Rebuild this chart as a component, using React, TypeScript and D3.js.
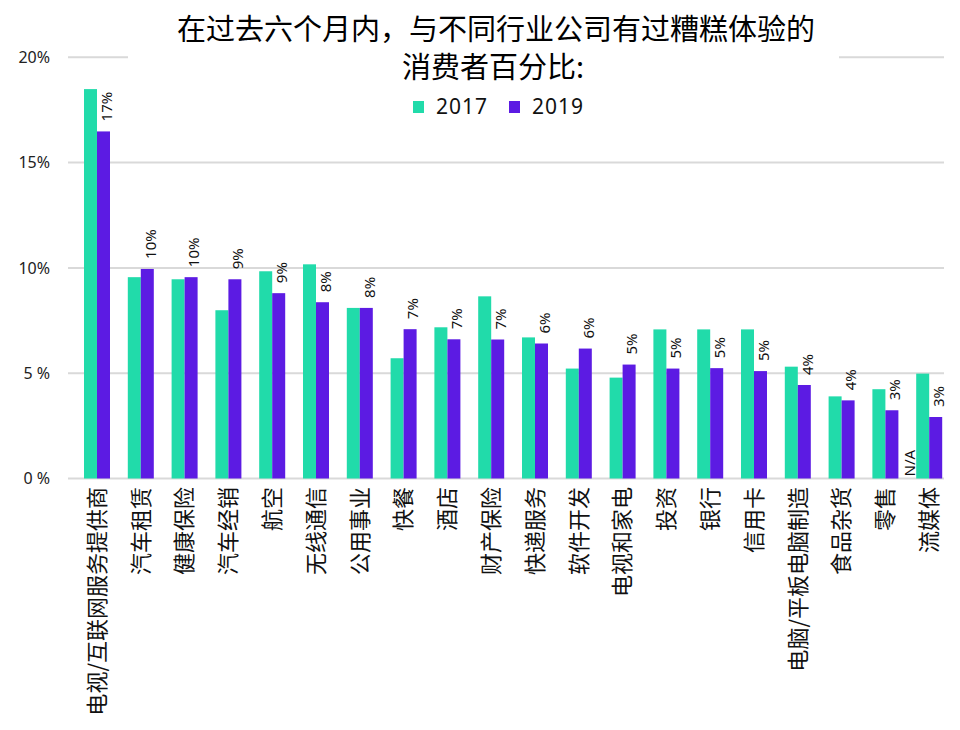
import React, { useEffect, useRef } from "react";
import * as d3 from "d3";

// categories and values
const categories = [
  "电视/互联网服务提供商",
  "汽车租赁",
  "健康保险",
  "汽车经销",
  "航空",
  "无线通信",
  "公用事业",
  "快餐",
  "酒店",
  "财产保险",
  "快递服务",
  "软件开发",
  "电视和家电",
  "投资",
  "银行",
  "信用卡",
  "电脑/平板电脑制造",
  "食品杂货",
  "零售",
  "流媒体",
];

const values2017 = [
  18.49, 9.56, 9.46, 7.99, 9.84, 10.17, 8.1, 5.71, 7.18, 8.65, 6.7, 5.22, 4.79, 7.08, 7.08, 7.08, 5.31, 3.9,
  4.24, 4.98,
];

const values2019 = [
  16.48, 9.95, 9.56, 9.46, 8.8, 8.37, 8.1, 7.09, 6.61, 6.6, 6.41, 6.17, 5.41, 5.22, 5.24, 5.1, 4.44, 3.71,
  3.24, 2.92,
];

const labels2019 = [
  "17%", "10%", "10%", "9%", "9%", "8%", "8%", "7%", "7%", "7%", "6%", "6%", "5%", "5%", "5%", "5%", "4%",
  "4%", "3%", "3%",
];

const seriesNames = ["2017", "2019"];
const yTicks = [0, 5, 10, 15, 20];
const yTickLabels = ["0 %", "5 %", "10%", "15%", "20%"];
const naCategory = "流媒体";

const colors = ["#21dbaa", "#5c1be3"];

const App = () => {
  const ref = useRef<SVGSVGElement>(null);

  useEffect(() => {
    const svg = d3.select(ref.current);
    svg.selectAll("*").remove();

    const width = 960;
    const height = 730;
    const left = 68;
    const right = 944;

    const x = d3.scaleBand().domain(categories).range([left, right]).padding(0);
    const x1 = d3.scaleBand().domain(seriesNames).range([16, 42]).padding(0);
    const y = d3.scaleLinear().domain([0, 20]).range([478.5, 57.3]);

    svg.attr("width", width).attr("height", height);

    // gridlines
    svg
      .append("g")
      .selectAll("line")
      .data(yTicks)
      .enter()
      .append("line")
      .attr("x1", left)
      .attr("x2", right)
      .attr("y1", (d) => y(d))
      .attr("y2", (d) => y(d))
      .attr("stroke", "#d9d9d9")
      .attr("stroke-width", 2);

    svg
      .append("g")
      .selectAll("text")
      .data(yTicks)
      .enter()
      .append("text")
      .attr("x", 50)
      .attr("y", (d) => y(d))
      .attr("dy", "0.35em")
      .attr("text-anchor", "end")
      .attr("font-family", "'Noto Sans', sans-serif")
      .attr("font-size", 16)
      .attr("fill", "#222")
      .text((d, i) => yTickLabels[i]);

    // bars
    const series = [values2017, values2019];
    series.forEach((vals, s) => {
      svg
        .append("g")
        .selectAll("rect")
        .data(vals)
        .enter()
        .append("rect")
        .attr("x", (d, i) => x(categories[i])! + x1(seriesNames[s])!)
        .attr("width", x1.bandwidth())
        .attr("y", (d) => y(d))
        .attr("height", (d) => y(0) - y(d))
        .attr("fill", colors[s]);
    });

    // data labels above 2019 bars
    svg
      .append("g")
      .selectAll("text")
      .data(values2019)
      .enter()
      .append("text")
      .attr("transform", (d, i) => {
        const cx = x(categories[i])! + x1("2019")! + x1.bandwidth() / 2 + 3;
        return `translate(${cx},${y(d) - 10}) rotate(-90)`;
      })
      .attr("dy", "0.35em")
      .attr("text-anchor", "start")
      .attr("font-family", "'Noto Sans', sans-serif")
      .attr("font-size", 15)
      .attr("fill", "#111")
      .text((d, i) => labels2019[i]);

    svg
      .append("text")
      .attr("transform", `translate(${x(naCategory)! + 10},${y(0) - 2}) rotate(-90)`)
      .attr("dy", "0.35em")
      .attr("font-family", "'Noto Sans', sans-serif")
      .attr("font-size", 15)
      .attr("fill", "#111")
      .text("N/A");

    // category labels
    svg
      .append("g")
      .selectAll("text")
      .data(categories)
      .enter()
      .append("text")
      .attr("transform", (d) => `translate(${x(d)! + 29},487) rotate(-90)`)
      .attr("dy", "0.35em")
      .attr("text-anchor", "end")
      .attr("font-family", "'Noto Sans CJK SC', sans-serif")
      .attr("font-size", 22)
      .attr("fill", "#111")
      .text((d) => d);

    // title box covers the top gridline
    svg.append("rect").attr("x", 128).attr("y", 0).attr("width", 711).attr("height", 125).attr("fill", "#fff");

    const title = svg
      .append("text")
      .attr("text-anchor", "middle")
      .attr("font-family", "'Noto Sans CJK SC', sans-serif")
      .attr("font-size", 29)
      .attr("fill", "#000");
    title.append("tspan").attr("x", 496).attr("y", 40).text("在过去六个月内，与不同行业公司有过糟糕体验的");
    title.append("tspan").attr("x", 493).attr("y", 78).text("消费者百分比:");

    // legend
    const legendX = [413, 509];
    const legend = svg
      .selectAll(".legend")
      .data(seriesNames)
      .enter()
      .append("g")
      .attr("class", "legend")
      .attr("transform", (d, i) => `translate(${legendX[i]},101)`);

    legend
      .append("rect")
      .attr("width", 11)
      .attr("height", 12)
      .attr("fill", (d, i) => colors[i]);

    legend
      .append("text")
      .attr("x", 23)
      .attr("y", 13)
      .attr("font-family", "'Noto Sans', sans-serif")
      .attr("font-size", 21)
      .attr("letter-spacing", 1)
      .attr("fill", "#111")
      .text((d) => d);
  }, []);

  return (
    <div style={{ position: "absolute", left: 0, top: 0 }}>
      <svg ref={ref} style={{ display: "block" }} />
    </div>
  );
};

export default App;
